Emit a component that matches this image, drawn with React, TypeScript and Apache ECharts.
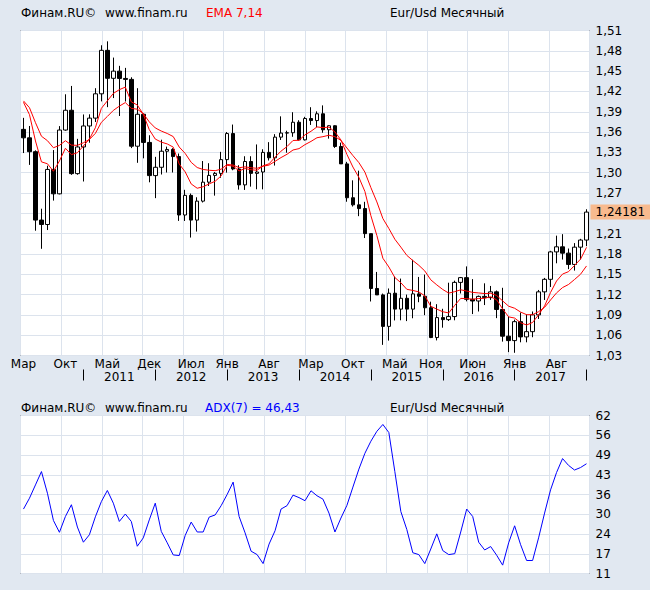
import React, { useEffect, useRef } from "react";
import * as echarts from "echarts";

// ---- data (monthly EUR/USD, Mar 2010 .. Jan 2018) ----
const START_YEAR = 2010;
const START_MONTH = 2; // March, 0-based
const MONTH_NAMES = ["Янв", "Фев", "Мар", "Апр", "Май", "Июн", "Июл", "Авг", "Сен", "Окт", "Ноя", "Дек"];

const OPEN = [
  1.364, 1.3515, 1.331, 1.23, 1.2235, 1.3048, 1.2688, 1.363, 1.3922, 1.2986,
  1.338, 1.369, 1.3806, 1.4165, 1.4807, 1.4394, 1.45, 1.4392, 1.4378, 1.3391,
  1.3863, 1.3447, 1.2957, 1.308, 1.3317, 1.3343, 1.3238, 1.2375, 1.2665, 1.23,
  1.258, 1.286, 1.296, 1.299, 1.3193, 1.3578, 1.3055, 1.282, 1.3165, 1.299,
  1.301, 1.33, 1.322, 1.3525, 1.3585, 1.359, 1.3745, 1.3485, 1.38, 1.377,
  1.387, 1.3634, 1.3693, 1.3387, 1.313, 1.263, 1.2525, 1.247, 1.21, 1.129,
  1.1195, 1.073, 1.122, 1.0985, 1.1145, 1.0985, 1.121, 1.1175, 1.1005, 1.0565,
  1.086, 1.083, 1.0875, 1.138, 1.145, 1.113, 1.1105, 1.1173, 1.1155, 1.124,
  1.098, 1.0585, 1.052, 1.08, 1.0575, 1.0652, 1.09, 1.124, 1.1425, 1.183,
  1.1905, 1.1812, 1.1645, 1.19, 1.2005,
];
const HIGH = [
  1.381, 1.369, 1.333, 1.2468, 1.3103, 1.3334, 1.3688, 1.4158, 1.4281, 1.35,
  1.386, 1.3862, 1.4248, 1.4882, 1.494, 1.47, 1.4578, 1.4548, 1.4409, 1.4248,
  1.3874, 1.3553, 1.3234, 1.3487, 1.3385, 1.3362, 1.3283, 1.2747, 1.2692, 1.2637,
  1.3172, 1.314, 1.301, 1.3308, 1.36, 1.3711, 1.311, 1.3243, 1.3243, 1.3417,
  1.3346, 1.3451, 1.3569, 1.3832, 1.362, 1.3893, 1.3775, 1.3825, 1.3967, 1.3906,
  1.3994, 1.37, 1.37, 1.3444, 1.316, 1.2887, 1.303, 1.257, 1.21, 1.1534,
  1.1215, 1.129, 1.1466, 1.1436, 1.12, 1.1714, 1.146, 1.1495, 1.1095, 1.1058,
  1.099, 1.1375, 1.1405, 1.146, 1.1616, 1.1428, 1.1185, 1.1366, 1.1327, 1.126,
  1.13, 1.0875, 1.083, 1.0935, 1.0907, 1.095, 1.1268, 1.1446, 1.1846, 1.207,
  1.2092, 1.188, 1.196, 1.2023, 1.246,
];
const LOW = [
  1.329, 1.3115, 1.2143, 1.1876, 1.2153, 1.2588, 1.268, 1.362, 1.2968, 1.297,
  1.287, 1.3443, 1.3749, 1.4053, 1.3968, 1.4102, 1.3837, 1.4051, 1.3363, 1.3146,
  1.3212, 1.2858, 1.2624, 1.2973, 1.3003, 1.3003, 1.2288, 1.2287, 1.2042, 1.213,
  1.256, 1.2803, 1.2661, 1.2925, 1.3001, 1.3036, 1.275, 1.2745, 1.2794, 1.2755,
  1.2754, 1.318, 1.3105, 1.3483, 1.3295, 1.353, 1.3475, 1.3476, 1.3705, 1.3674,
  1.359, 1.3503, 1.3366, 1.313, 1.2571, 1.25, 1.2358, 1.2035, 1.1098, 1.1195,
  1.0457, 1.052, 1.0818, 1.082, 1.0808, 1.085, 1.1087, 1.0896, 1.0557, 1.0523,
  1.0711, 1.081, 1.082, 1.1216, 1.11, 1.0912, 1.095, 1.1045, 1.1121, 1.0852,
  1.0505, 1.035, 1.034, 1.0495, 1.0495, 1.057, 1.084, 1.112, 1.1312, 1.1662,
  1.1717, 1.1575, 1.1554, 1.1718, 1.1915,
];
const CLOSE = [
  1.3515, 1.331, 1.23, 1.2235, 1.3048, 1.2688, 1.363, 1.3922, 1.2986, 1.338,
  1.369, 1.3806, 1.4165, 1.4807, 1.4394, 1.45, 1.4392, 1.4378, 1.3391, 1.3863,
  1.3447, 1.2957, 1.308, 1.3317, 1.3343, 1.3238, 1.2375, 1.2665, 1.23, 1.258,
  1.286, 1.296, 1.299, 1.3193, 1.3578, 1.3055, 1.282, 1.3165, 1.299, 1.301,
  1.33, 1.322, 1.3525, 1.3585, 1.359, 1.3745, 1.3485, 1.38, 1.377, 1.387,
  1.3634, 1.3693, 1.3387, 1.313, 1.263, 1.2525, 1.247, 1.21, 1.129, 1.1195,
  1.073, 1.122, 1.0985, 1.1145, 1.0985, 1.121, 1.1175, 1.1005, 1.0565, 1.086,
  1.083, 1.0875, 1.138, 1.145, 1.113, 1.1105, 1.1173, 1.1155, 1.124, 1.098,
  1.0585, 1.052, 1.08, 1.0575, 1.0652, 1.09, 1.124, 1.1425, 1.183, 1.1905,
  1.1812, 1.1645, 1.19, 1.2005, 1.24181,
];
const ADX = [
  31.8, 35.3, 39.6, 43.9, 36.9, 28.1, 24.3, 29.4, 33.2, 26.0,
  21.1, 23.5, 29.3, 34.2, 37.8, 33.7, 27.8, 30.2, 27.8, 19.8,
  22.5, 28.3, 33.7, 24.6, 20.9, 17.0, 16.8, 23.3, 27.6, 24.4,
  24.4, 29.2, 29.9, 32.9, 36.5, 40.5, 29.4, 24.1, 18.2, 17.1,
  14.2, 20.5, 24.8, 31.8, 32.9, 36.3, 35.5, 34.5, 37.7, 36.1,
  35.0, 30.5, 24.4, 28.9, 33.0, 38.9, 44.7, 49.8, 53.7, 56.9,
  59.1, 56.5, 43.9, 31.0, 25.2, 17.7, 17.1, 14.2, 18.9, 23.8,
  18.4, 17.1, 17.4, 24.4, 31.8, 29.4, 21.1, 18.6, 19.7, 16.9,
  13.7, 20.9, 26.4, 20.3, 15.2, 15.2, 22.5, 30.5, 38.0, 43.6,
  48.1, 45.9, 44.4, 45.2, 46.43,
];

// EMA periods and their values on the first bar
const EMA_FAST = 7;
const EMA_SLOW = 14;
const EMA_FAST_START = 1.404;
const EMA_SLOW_START = 1.406;

const MONTH_LABEL_IDX = [0, 7, 14, 21, 28, 34, 41, 48, 55, 62, 68, 75, 82, 89];
const PRICE_TICKS = ["1,03", "1,06", "1,09", "1,12", "1,15", "1,18", "1,21", "1,24", "1,27", "1,30", "1,33", "1,36", "1,39", "1,42", "1,45", "1,48", "1,51"];
const PRICE_MIN = 1.03;
const PRICE_MAX = 1.51;
const ADX_TICKS = ["11", "17", "24", "30", "36", "43", "49", "56", "62"];
const ADX_MIN = 11;
const ADX_MAX = 62;

// ---- styles ----
const BG = "#E1E8F1";
const GRID_LINE = "#DCE3ED";
const FONT = "DejaVu Sans";

function ema(values: number[], period: number, start: number): number[] {
  const k = 2 / (period + 1);
  const out: number[] = [];
  let prev = start;
  values.forEach((v, i) => {
    prev = i === 0 ? start : prev + k * (v - prev);
    out.push(+prev.toFixed(5));
  });
  return out;
}

const CATS = CLOSE.map((_, i) => {
  const m = START_MONTH + i;
  const y = START_YEAR + Math.floor(m / 12);
  const mm = (m % 12) + 1;
  return `${y}-${mm < 10 ? "0" + mm : mm}`;
});
const yearOf = (i: number) => +CATS[i].slice(0, 4);
const monthOf = (i: number) => +CATS[i].slice(5) - 1;

function buildOption(): any {
  const candles = OPEN.map((o, i) => [o, CLOSE[i], LOW[i], HIGH[i]]);
  const last = CLOSE[CLOSE.length - 1];
  const lastLabel = last.toFixed(5).replace(".", ",");
  const hiddenTick = Math.round((last - PRICE_MIN) / 0.03);
  const adxLast = ADX[ADX.length - 1].toFixed(2).replace(".", ",");
  const txt = (text: string, x: number, y: number, fill = "#000") => ({
    type: "text",
    x,
    y,
    style: { text, fill, font: `12px "${FONT}"`, textVerticalAlign: "middle" },
  });
  const lbl = { color: "#000", fontSize: 12, fontFamily: FONT };
  const hiddenAxis = { axisLine: { show: false }, axisTick: { show: false }, axisLabel: { show: false }, splitLine: { show: false } };
  const vGrid = {
    type: "value", min: 0, max: 14, interval: 1, position: "top",
    axisLine: { show: false }, axisTick: { show: false }, axisLabel: { show: false },
    splitLine: { show: true, lineStyle: { color: GRID_LINE, width: 1 } },
  };

  return {
    animation: false,
    backgroundColor: BG,
    textStyle: { fontFamily: FONT },
    grid: [
      { left: 20.5, top: 30.5, width: 569, height: 325, show: true, backgroundColor: "#fff", borderColor: "#000", borderWidth: 1 },
      { left: 20.5, top: 415.5, width: 569, height: 158, show: true, backgroundColor: "#fff", borderColor: "#000", borderWidth: 1 },
    ],
    graphic: [
      txt("Финам.RU©", 21, 13),
      txt("www.finam.ru", 105, 13),
      txt(`EMA ${EMA_FAST},${EMA_SLOW}`, 206, 13, "#FF0000"),
      txt("Eur/Usd Месячный", 390, 13),
      txt("Финам.RU©", 21, 408),
      txt("www.finam.ru", 105, 408),
      txt(`ADX(7) = ${adxLast}`, 205, 408, "#0000FF"),
      txt("Eur/Usd Месячный", 390, 408),
    ],
    xAxis: [
      {
        type: "category", gridIndex: 0, data: CATS, boundaryGap: true, position: "bottom",
        axisLine: { show: false }, axisTick: { show: false }, splitLine: { show: false },
        axisLabel: {
          ...lbl, margin: 2,
          interval: (i: number) => MONTH_LABEL_IDX.includes(i),
          formatter: (_v: string, i: number) => MONTH_NAMES[monthOf(i)],
        },
      },
      {
        type: "category", gridIndex: 0, data: CATS, boundaryGap: true, position: "bottom", offset: 14,
        axisLine: { show: false }, splitLine: { show: false },
        axisTick: {
          show: true, alignWithLabel: true, length: 11, inside: false,
          interval: (i: number) => monthOf(i) === 0,
          lineStyle: { color: "#000", width: 1 },
        },
        axisLabel: {
          ...lbl, margin: 1,
          interval: (i: number) => monthOf(i) === 6 && yearOf(i) > START_YEAR,
          formatter: (_v: string, i: number) => String(yearOf(i)),
        },
      },
      { ...vGrid, gridIndex: 0 },
      { type: "category", gridIndex: 1, data: CATS, boundaryGap: true, position: "bottom", ...hiddenAxis },
      { ...vGrid, gridIndex: 1 },
    ],
    yAxis: [
      { type: "value", gridIndex: 0, min: PRICE_MIN, max: PRICE_MAX, show: false },
      {
        type: "value", gridIndex: 0, min: 0, max: PRICE_TICKS.length - 1, interval: 1, position: "right",
        axisLine: { show: false }, axisTick: { show: false },
        splitLine: { show: true, lineStyle: { color: GRID_LINE, width: 1 } },
        axisLabel: {
          ...lbl, margin: 6, showMinLabel: true, showMaxLabel: true,
          formatter: (v: number) => (v === hiddenTick ? "" : PRICE_TICKS[v]),
        },
      },
      { type: "value", gridIndex: 1, min: ADX_MIN, max: ADX_MAX, show: false },
      {
        type: "value", gridIndex: 1, min: 0, max: ADX_TICKS.length - 1, interval: 1, position: "right",
        axisLine: { show: false }, axisTick: { show: false },
        splitLine: { show: true, lineStyle: { color: GRID_LINE, width: 1 } },
        axisLabel: { ...lbl, margin: 6, showMinLabel: true, showMaxLabel: true, formatter: (v: number) => ADX_TICKS[v] },
      },
    ],
    series: [
      {
        type: "candlestick", xAxisIndex: 0, yAxisIndex: 0, data: candles, barWidth: 4, z: 2, clip: false,
        itemStyle: {
          color: "#FFFFFF", color0: "#000000", borderColor: "#000000", borderColor0: "#000000",
          borderColorDoji: "#000000", borderWidth: 1,
        },
        markLine: {
          silent: true, symbol: "none", animation: false, precision: 5,
          lineStyle: { color: "rgba(0,0,0,0)", width: 1, type: "solid" },
          label: {
            show: true, position: "end", distance: 1, formatter: lastLabel, opacity: 1,
            backgroundColor: "#F8BA8E", color: "#000", fontSize: 12, fontFamily: FONT, padding: [2, 8, 1, 5],
          },
          emphasis: { disabled: true },
          data: [{ yAxis: last }],
        },
      },
      {
        type: "line", xAxisIndex: 0, yAxisIndex: 0, data: ema(CLOSE, EMA_FAST, EMA_FAST_START), z: 3,
        symbol: "none", lineStyle: { color: "#FF0000", width: 1 }, itemStyle: { color: "#FF0000" },
      },
      {
        type: "line", xAxisIndex: 0, yAxisIndex: 0, data: ema(CLOSE, EMA_SLOW, EMA_SLOW_START), z: 3,
        symbol: "none", lineStyle: { color: "#FF0000", width: 1 }, itemStyle: { color: "#FF0000" },
      },
      {
        type: "line", xAxisIndex: 3, yAxisIndex: 2, data: ADX, z: 3,
        symbol: "none", lineStyle: { color: "#0000FF", width: 1 }, itemStyle: { color: "#0000FF" },
      },
    ],
  };
}

export default function App() {
  const ref = useRef<HTMLDivElement>(null);
  useEffect(() => {
    if (!ref.current) return;
    const chart = echarts.init(ref.current, null, { renderer: "svg" });
    chart.setOption(buildOption());
    return () => chart.dispose();
  }, []);
  return (
    <div
      ref={ref}
      style={{ position: "fixed", left: 0, top: 0, width: 650, height: 590, background: BG }}
    />
  );
}
